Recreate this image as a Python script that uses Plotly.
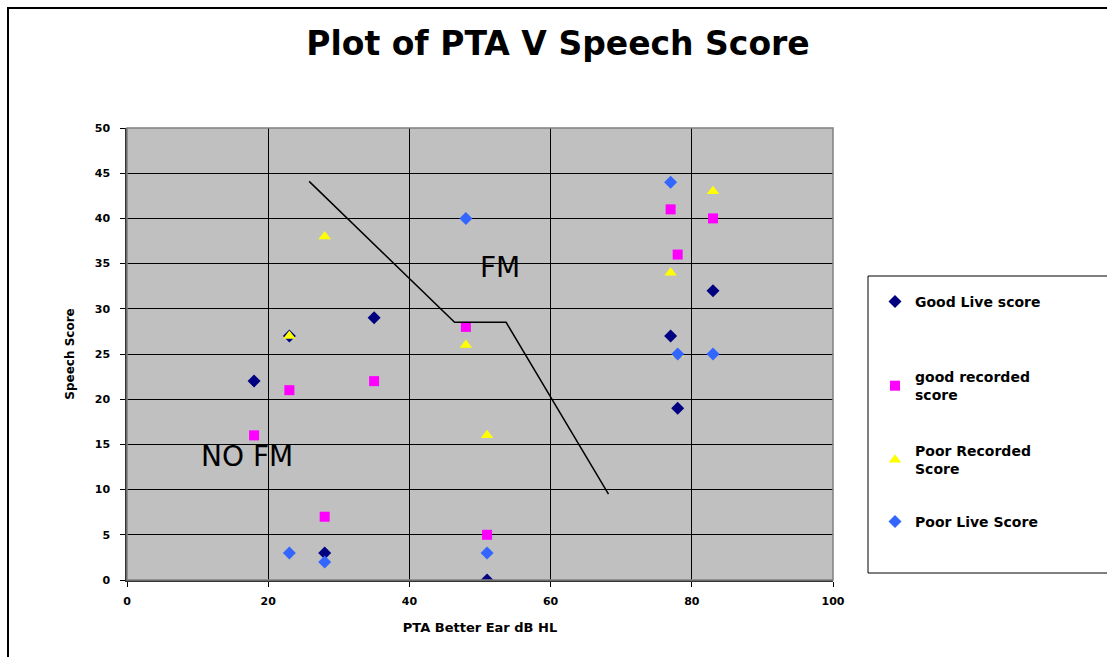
import plotly.graph_objects as go

# ---- data ----
good_live_x = [18, 23, 28, 35, 51, 77, 78, 83]
good_live_y = [22, 27, 3, 29, 0, 27, 19, 32]

good_rec_x = [18, 23, 28, 35, 48, 51, 77, 78, 83]
good_rec_y = [16, 21, 7, 22, 28, 5, 41, 36, 40]

poor_rec_x = [23, 28, 48, 51, 77, 78, 83]
poor_rec_y = [27, 38, 26, 16, 34, 25, 43]

poor_live_x = [23, 28, 48, 51, 77, 78, 83]
poor_live_y = [3, 2, 40, 3, 44, 25, 25]

boundary_x = [25.8, 46.4, 53.7, 68.2]
boundary_y = [44.1, 28.5, 28.5, 9.5]

x_ticks = [0, 20, 40, 60, 80, 100]
y_ticks = [0, 5, 10, 15, 20, 25, 30, 35, 40, 45, 50]

FONT = "DejaVu Sans, Verdana, sans-serif"

fig = go.Figure()

fig.add_trace(go.Scatter(
    x=good_live_x, y=good_live_y, mode="markers", name="Good Live score",
    marker=dict(symbol="diamond", size=10, color="#000080"), legend="legend"))
fig.add_trace(go.Scatter(
    x=good_rec_x, y=good_rec_y, mode="markers", name="good recorded<br>score",
    marker=dict(symbol="square", size=10, color="#FF00FF"), legend="legend2"))
fig.add_trace(go.Scatter(
    x=poor_rec_x, y=poor_rec_y, mode="markers", name="Poor Recorded<br>Score",
    marker=dict(symbol="triangle-up", size=11, color="#FFFF00"), legend="legend3"))
fig.add_trace(go.Scatter(
    x=poor_live_x, y=poor_live_y, mode="markers", name="Poor Live Score",
    marker=dict(symbol="diamond", size=10, color="#3366FF"), legend="legend4"))
fig.add_trace(go.Scatter(
    x=boundary_x, y=boundary_y, mode="lines", showlegend=False,
    line=dict(color="black", width=1.5), hoverinfo="skip"))

# body margin is removed by post_script below, so figure px == screen px
W, H = 1107, 657
L, T = 127, 128
R, B = W - 833, H - 580
pw, ph = W - L - R, H - T - B


def px2x(px):
    return (px - L) / pw


def py2y(py):
    return (H - B - py) / ph


legend_font = dict(family=FONT, size=14, color="black", weight="bold")
leg_common = dict(font=legend_font, bgcolor="rgba(0,0,0,0)", borderwidth=0,
                  xanchor="left", yanchor="middle", x=px2x(875))

fig.update_layout(
    width=W, height=H,
    margin=dict(l=L, r=R, t=T, b=B),
    paper_bgcolor="white",
    plot_bgcolor="#C0C0C0",
    title=dict(text="Plot of PTA V Speech Score", x=px2x(558), xref="paper",
               xanchor="center", y=1 - 43 / H, yanchor="middle",
               font=dict(family=FONT, size=33, color="black", weight="bold")),
    legend=dict(**leg_common, y=py2y(302)),
    legend2=dict(**leg_common, y=py2y(386)),
    legend3=dict(**leg_common, y=py2y(460)),
    legend4=dict(**leg_common, y=py2y(522)),
    xaxis=dict(range=[0, 100], tickvals=x_ticks, showgrid=True, gridcolor="black",
               gridwidth=1, zeroline=False, showline=True, linecolor="#333333",
               linewidth=1.5, ticks="outside", ticklen=5, tickcolor="black",
               ticklabelstandoff=5,
               tickfont=dict(family=FONT, size=11, color="black", weight="bold"),
               title=dict(text="PTA Better Ear dB HL", standoff=16,
                          font=dict(family=FONT, size=13, color="black", weight="bold"))),
    yaxis=dict(range=[0, 50], tickvals=y_ticks, showgrid=True, gridcolor="black",
               gridwidth=1, zeroline=False, showline=True, linecolor="#333333",
               linewidth=1.5, ticks="outside", ticklen=5, tickcolor="black",
               ticklabelstandoff=8,
               tickfont=dict(family=FONT, size=11, color="black", weight="bold"),
               title=dict(text="Speech Score", standoff=18,
                          font=dict(family=FONT, size=12, color="black", weight="bold"))),
    showlegend=True,
)

# plot frame (gray) on the top/right
fig.add_shape(type="rect", xref="paper", yref="paper", x0=0, x1=1, y0=0, y1=1,
              line=dict(color="#808080", width=1.5), layer="above")
# outer chart border (left and top edges visible)
fig.add_shape(type="rect", xref="paper", yref="paper",
              x0=px2x(8), x1=px2x(1140), y0=py2y(690), y1=py2y(8),
              line=dict(color="black", width=2))
# legend box
fig.add_shape(type="rect", xref="paper", yref="paper",
              x0=px2x(868), x1=px2x(1140), y0=py2y(573), y1=py2y(276),
              line=dict(color="black", width=1))

fig.add_annotation(text="FM", x=52.9, y=34.6, xref="x", yref="y", showarrow=False,
                   font=dict(family=FONT, size=28, color="black"))
fig.add_annotation(text="NO FM", x=17.0, y=13.7, xref="x", yref="y", showarrow=False,
                   font=dict(family=FONT, size=28, color="black"))

fig.write_html(
    "out.html",
    config={"displayModeBar": False},
    post_script="document.body.style.margin='0';document.body.style.overflow='hidden';",
)
